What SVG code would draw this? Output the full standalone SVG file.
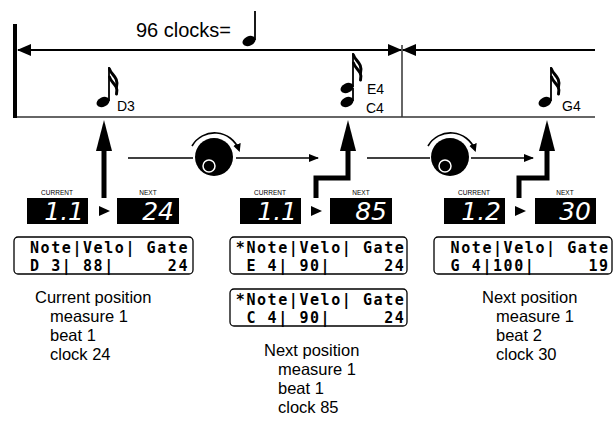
<svg xmlns="http://www.w3.org/2000/svg" width="616" height="430" viewBox="0 0 616 430">
<style>
.lbl{font-family:"Liberation Sans",Arial,sans-serif;fill:#000}
.big{font-size:20px}
.note{font-size:14px}
.pos{font-size:16.5px}
.tiny{font-family:"Liberation Sans",Arial,sans-serif;font-size:6.5px;fill:#000;text-anchor:middle}
.seg{font-family:"DejaVu Sans",sans-serif;font-weight:200;font-style:italic;font-size:25px;fill:#fff;text-anchor:end}
.lcd{font-family:"DejaVu Sans Mono",monospace;font-weight:bold;font-size:15px;letter-spacing:1.57px;fill:#000}
.box{fill:#fff;stroke:#000;stroke-width:1.3}
.thin{stroke:#000;stroke-width:1.5;fill:none}
.thick{stroke:#000;stroke-width:5;fill:none}
.flag{stroke:#000;stroke-width:3;fill:none;stroke-linecap:round}
</style>
<defs>
<marker id="ah" markerWidth="10" markerHeight="10" refX="9" refY="5" orient="auto" markerUnits="userSpaceOnUse"><path d="M0,1 L10,5 L0,9 Z" fill="#000"/></marker>
<marker id="ah2" markerWidth="14" markerHeight="14" refX="13" refY="7" orient="auto" markerUnits="userSpaceOnUse"><path d="M0,1 L14,7 L0,13 Z" fill="#000"/></marker>
<marker id="arc" markerWidth="8" markerHeight="8" refX="6" refY="4" orient="auto" markerUnits="userSpaceOnUse"><path d="M0,0 L8,4 L0,8 Z" fill="#000"/></marker>
<g id="sixteenth">
<path d="M6,-35 V-1" stroke="#000" stroke-width="1.8"/>
<ellipse cx="0" cy="0" rx="6.8" ry="4.8" transform="rotate(-25)" fill="#000"/>
<path class="flag" d="M6.5,-33 C8,-27 16,-25 13.5,-15"/>
<path class="flag" d="M6.5,-25 C8,-19 16,-17 13.5,-8"/>
</g>
</defs>

<g id="timeline">
<text class="lbl big" x="136" y="37">96 clocks=</text>
<path d="M255,11 V40" stroke="#000" stroke-width="1.8"/>
<ellipse cx="249" cy="41" rx="6.8" ry="4.8" transform="rotate(-25 249 41)" fill="#000"/>
<rect x="13" y="24" width="4" height="94" fill="#000"/>
<line x1="17" y1="117" x2="595" y2="117" stroke="#333" stroke-width="1.5"/>
<line x1="402" y1="45" x2="402" y2="117" stroke="#333" stroke-width="1.5"/>
</g>

<g id="connectors">
<line x1="200" y1="50" x2="18" y2="50" stroke="#000" stroke-width="2.2" marker-end="url(#ah2)"/>
<line x1="100" y1="50" x2="401" y2="50" stroke="#000" stroke-width="2.2" marker-end="url(#ah2)"/>
<line x1="595" y1="50" x2="403" y2="50" stroke="#000" stroke-width="2.2" marker-end="url(#ah2)"/>
<path class="thick" d="M104,198 V148"/>
<path d="M104,120 L96,151 L112,151 Z" fill="#000"/>
<path class="thick" d="M316,198 V178 H348 V148" stroke-linejoin="miter"/>
<path d="M348,120 L340,151 L356,151 Z" fill="#000"/>
<path class="thick" d="M519,198 V178 H547 V148" stroke-linejoin="miter"/>
<path d="M547,120 L539,151 L555,151 Z" fill="#000"/>
<line class="thin" x1="128" y1="158" x2="193" y2="158"/>
<line class="thin" x1="236" y1="158" x2="318" y2="158" marker-end="url(#ah)"/>
<line class="thin" x1="367" y1="158" x2="430" y2="158"/>
<line class="thin" x1="471" y1="158" x2="533" y2="158" marker-end="url(#ah)"/>
</g>

<g id="note-d3">
<use href="#sixteenth" x="103" y="102"/>
<text class="lbl note" x="117" y="111">D3</text>
</g>
<g id="note-e4c4">
<use href="#sixteenth" x="347" y="88"/>
<ellipse cx="347" cy="102" rx="6.8" ry="4.8" transform="rotate(-25 347 102)" fill="#000"/>
<path d="M353,88 V101" stroke="#000" stroke-width="1.8"/>
<text class="lbl note" x="367" y="94">E4</text>
<text class="lbl note" x="366" y="113">C4</text>
</g>
<g id="note-g4">
<use href="#sixteenth" x="545" y="102"/>
<text class="lbl note" x="562" y="111">G4</text>
</g>

<g id="knob1">
<circle cx="214" cy="157" r="19" fill="#000"/>
<circle cx="209" cy="166" r="6" fill="none" stroke="#fff" stroke-width="1.5"/>
<path d="M192,146 A26,26 0 0 1 239,150" fill="none" stroke="#000" stroke-width="1.6" marker-end="url(#arc)"/>
</g>
<g id="knob2">
<circle cx="450" cy="157" r="19" fill="#000"/>
<circle cx="445" cy="166" r="6" fill="none" stroke="#fff" stroke-width="1.5"/>
<path d="M428,146 A26,26 0 0 1 475,150" fill="none" stroke="#000" stroke-width="1.6" marker-end="url(#arc)"/>
</g>

<g id="display1">
<text class="tiny" x="57" y="195">CURRENT</text>
<rect x="27" y="198" width="61" height="26" fill="#000"/>
<text class="seg" x="84" y="220">1.1</text>
<path d="M99,206 L110,211 L99,216 Z" fill="#000"/>
<text class="tiny" x="148" y="195">NEXT</text>
<rect x="117" y="198" width="62" height="26" fill="#000"/>
<text class="seg" x="174" y="220">24</text>
</g>
<g id="display2">
<text class="tiny" x="270" y="195">CURRENT</text>
<rect x="240" y="198" width="61" height="26" fill="#000"/>
<text class="seg" x="297" y="220">1.1</text>
<path d="M311,206 L322,211 L311,216 Z" fill="#000"/>
<text class="tiny" x="361" y="195">NEXT</text>
<rect x="330" y="198" width="62" height="26" fill="#000"/>
<text class="seg" x="387" y="220">85</text>
</g>
<g id="display3">
<text class="tiny" x="474" y="195">CURRENT</text>
<rect x="444" y="198" width="61" height="26" fill="#000"/>
<text class="seg" x="501" y="220">1.2</text>
<path d="M515,206 L526,211 L515,216 Z" fill="#000"/>
<text class="tiny" x="565" y="195">NEXT</text>
<rect x="535" y="198" width="61" height="26" fill="#000"/>
<text class="seg" x="591" y="220">30</text>
</g>

<g id="lcd1">
<rect class="box" x="14" y="237" width="179" height="37" rx="4"/>
<text class="lcd" x="19.4" y="253" xml:space="preserve"> Note|Velo| Gate</text>
<text class="lcd" x="19.4" y="271" xml:space="preserve"> D 3| 88|     24</text>
</g>
<g id="lcd2">
<rect class="box" x="230" y="237" width="177" height="37" rx="4"/>
<text class="lcd" x="235.8" y="253" xml:space="preserve">*Note|Velo| Gate</text>
<text class="lcd" x="235.8" y="271" xml:space="preserve"> E 4| 90|     24</text>
</g>
<g id="lcd3">
<rect class="box" x="230" y="289" width="177" height="37" rx="4"/>
<text class="lcd" x="235.8" y="305" xml:space="preserve">*Note|Velo| Gate</text>
<text class="lcd" x="235.8" y="323" xml:space="preserve"> C 4| 90|     24</text>
</g>
<g id="lcd4">
<rect class="box" x="434" y="237" width="178" height="37" rx="4"/>
<text class="lcd" x="440" y="253" xml:space="preserve"> Note|Velo| Gate</text>
<text class="lcd" x="440" y="271" xml:space="preserve"> G 4|100|     19</text>
</g>

<g id="text-current">
<text class="lbl pos" x="35" y="303">Current position</text>
<text class="lbl pos" x="50" y="322">measure 1</text>
<text class="lbl pos" x="50" y="341">beat 1</text>
<text class="lbl pos" x="50" y="360">clock 24</text>
</g>
<g id="text-next1">
<text class="lbl pos" x="264" y="356">Next position</text>
<text class="lbl pos" x="278" y="375">measure 1</text>
<text class="lbl pos" x="278" y="394">beat 1</text>
<text class="lbl pos" x="278" y="413">clock 85</text>
</g>
<g id="text-next2">
<text class="lbl pos" x="482" y="303">Next position</text>
<text class="lbl pos" x="496" y="322">measure 1</text>
<text class="lbl pos" x="496" y="341">beat 2</text>
<text class="lbl pos" x="496" y="360">clock 30</text>
</g>
</svg>
